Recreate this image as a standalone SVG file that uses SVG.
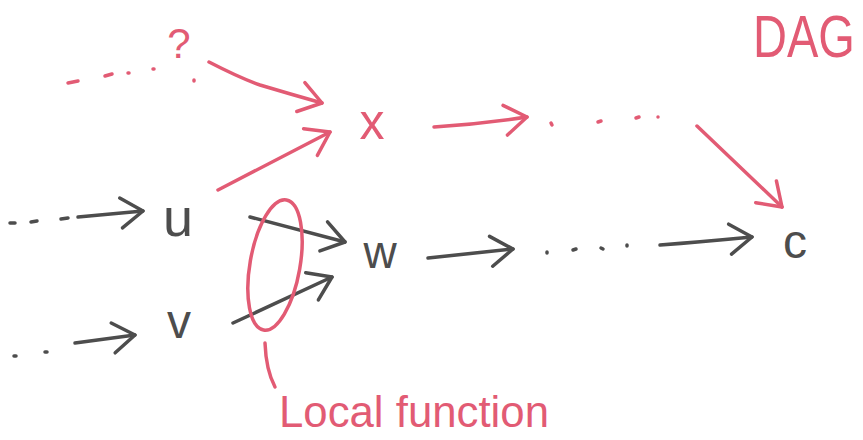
<svg xmlns="http://www.w3.org/2000/svg" width="863" height="440" viewBox="0 0 863 440">
<style>
.r{stroke:#e25b74;fill:none;stroke-width:3.5;stroke-linecap:round;stroke-linejoin:round}
.g{stroke:#4d4d4d;fill:none;stroke-width:3.5;stroke-linecap:round;stroke-linejoin:round}
.tg{font-family:"Liberation Sans","DejaVu Sans",sans-serif;fill:#4d4d4d}
.tr{font-family:"Liberation Sans","DejaVu Sans",sans-serif;fill:#e25b74}
</style>
<defs>
<marker id="ar" markerUnits="userSpaceOnUse" markerWidth="40" markerHeight="40" viewBox="-30 -20 40 40" refX="0" refY="0" orient="auto" overflow="visible">
<path d="M-22,-15 L0,0 L-22,15" fill="none" stroke="#e25b74" stroke-width="3.5" stroke-linecap="round" stroke-linejoin="round"/>
</marker>
<marker id="ag" markerUnits="userSpaceOnUse" markerWidth="40" markerHeight="40" viewBox="-30 -20 40 40" refX="0" refY="0" orient="auto" overflow="visible">
<path d="M-22,-15 L0,0 L-22,15" fill="none" stroke="#4d4d4d" stroke-width="3.5" stroke-linecap="round" stroke-linejoin="round"/>
</marker>
</defs>
<rect width="863" height="440" fill="#ffffff"/>
<g id="connectors">
<path class="r" d="M68,83 L78,81 M105,76 L112,74 M128,73 L129,73 M153,69 L154,69 M194,80 L194,81"/>
<path class="r" d="M209,62 Q240,78 260,85 Q290,94 322,103" marker-end="url(#ar)"/>
<path class="r" d="M218,190 L330,132" marker-end="url(#ar)"/>
<path class="r" d="M434,127 Q480,124 527,117" marker-end="url(#ar)"/>
<path class="r" d="M551,123 L552,125 M598,122 L601,121 M636,118 L639,117 M658,117 L658,117"/>
<path class="r" d="M697,126 L782,207" marker-end="url(#ar)"/>
<path class="g" d="M10,223 L15,223 M31,222 L37,221 M61,219 L68,218"/>
<path class="g" d="M78,217 L143,211" marker-end="url(#ag)"/>
<path class="g" d="M14,356 L16,356 M45,352 L47,352"/>
<path class="g" d="M75,343 L135,335" marker-end="url(#ag)"/>
<path class="g" d="M250,217 L345,242" marker-end="url(#ag)"/>
<path class="g" d="M233,323 L332,277" marker-end="url(#ag)"/>
<path class="g" d="M428,258 L513,249" marker-end="url(#ag)"/>
<path class="g" d="M547,252 L547,253 M573,250 L576,249 M601,248 L603,249 M627,245 L627,246"/>
<path class="g" d="M660,245 Q700,242 752,237" marker-end="url(#ag)"/>
</g>
<g id="node-question">
<text class="tr" x="179" y="58" font-size="42" text-anchor="middle">?</text>
</g>
<g id="node-x">
<text class="tr" x="372" y="139" font-size="50" text-anchor="middle">x</text>
</g>
<g id="node-u">
<text class="tg" x="178" y="236" font-size="54" text-anchor="middle">u</text>
</g>
<g id="node-v">
<text class="tg" x="179" y="338" font-size="48" text-anchor="middle">v</text>
</g>
<g id="node-w">
<text class="tg" x="380" y="268" font-size="46" text-anchor="middle">w</text>
</g>
<g id="node-c">
<text class="tg" x="795" y="258" font-size="48" text-anchor="middle">c</text>
</g>
<g id="label-dag">
<text class="tr" transform="translate(753,57) scale(1,1.25)" x="0" y="0" font-size="47">DAG</text>
</g>
<g id="local-function">
<ellipse class="r" cx="275" cy="265" rx="25" ry="66" transform="rotate(10 275 265)"/>
<path class="r" d="M265,343 Q266,370 275,387"/>
<text class="tr" x="279" y="427" font-size="44" textLength="270" lengthAdjust="spacingAndGlyphs">Local function</text>
</g>
</svg>
